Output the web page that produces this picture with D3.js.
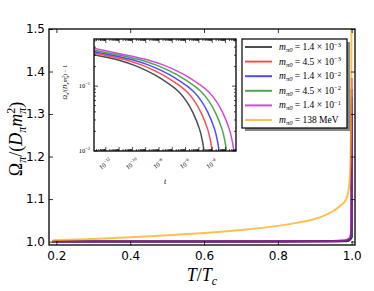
<!DOCTYPE html>
<html>
<head>
<meta charset="utf-8">
<script src="https://cdn.jsdelivr.net/npm/d3@7"></script>
<style>
body { margin: 0; background: #fff; }
</style>
</head>
<body>
<svg id="chart" width="374" height="291"></svg>
<script>
// ---- data ----
const seriesLabels = ["1.4", "4.5", "1.4", "4.5", "1.4", "138"];
const seriesExps = ["3", "3", "2", "2", "1", null];
const seriesColors = ["#000000", "#ff0000", "#0000ff", "#008000", "#bf00bf", "#ffa500"];

// main panel, physical-pion curve (orange)
const orangeT = [0.19, 0.3, 0.4, 0.5, 0.6, 0.7, 0.8, 0.85, 0.9, 0.95, 0.97, 0.985, 0.993, 0.997, 0.999, 0.9996];
const orangeVal = [1.003, 1.006, 1.010, 1.015, 1.020, 1.027, 1.037, 1.044, 1.053, 1.072, 1.085, 1.10, 1.13, 1.2, 1.35, 1.56];

// main panel, the five small-mass curves away from Tc
const flatT = [0.19, 0.5, 0.8, 0.9, 0.95, 0.98, 0.99];
const flatGray = [1.0004, 1.0004, 1.0005, 1.0006, 1.0008, 1.001, 1.0015];
const flatRed = [1.0004, 1.0004, 1.0005, 1.0006, 1.0009, 1.0012, 1.002];
const flatBlue = [1.0004, 1.0004, 1.0005, 1.0007, 1.001, 1.0015, 1.003];
const flatGreen = [1.0004, 1.0005, 1.0006, 1.0008, 1.0012, 1.002, 1.004];
const flatMagenta = [1.0004, 1.0005, 1.0006, 1.0009, 1.0015, 1.003, 1.006];

// inset: log10(t) and Omega/(D m^2) - 1
const logTGray = [-13, -12.9, -11.9, -10.9, -9.9, -8.9, -7.9, -6.9, -6.4, -5.9, -5.4, -4.9, -4.7, -4.58];
const valGray = [0.305, 0.302, 0.275, 0.245, 0.209, 0.170, 0.132, 0.0955, 0.0776, 0.0575, 0.038, 0.0209, 0.0141, 0.010];
const logTRed = [-13, -12.29, -11.29, -10.29, -9.29, -8.29, -7.29, -6.29, -5.79, -5.29, -4.79, -4.29, -4.09, -3.97];
const valRed = [0.322, 0.302, 0.275, 0.245, 0.209, 0.170, 0.132, 0.0955, 0.0776, 0.0575, 0.038, 0.0209, 0.0141, 0.010];
const logTBlue = [-13, -11.77, -10.77, -9.77, -8.77, -7.77, -6.77, -5.77, -5.27, -4.77, -4.27, -3.77, -3.57, -3.45];
const valBlue = [0.340, 0.302, 0.275, 0.245, 0.209, 0.170, 0.132, 0.0955, 0.0776, 0.0575, 0.038, 0.0209, 0.0141, 0.010];
const logTGreen = [-13, -11.21, -10.21, -9.21, -8.21, -7.21, -6.21, -5.21, -4.71, -4.21, -3.71, -3.21, -3.01, -2.89];
const valGreen = [0.359, 0.302, 0.275, 0.245, 0.209, 0.170, 0.132, 0.0955, 0.0776, 0.0575, 0.038, 0.0209, 0.0141, 0.010];
const logTMagenta = [-13, -10.66, -9.66, -8.66, -7.66, -6.66, -5.66, -4.66, -4.16, -3.66, -3.16, -2.66, -2.46, -2.34];
const valMagenta = [0.385, 0.302, 0.275, 0.245, 0.209, 0.170, 0.132, 0.0955, 0.0776, 0.0575, 0.038, 0.0209, 0.0141, 0.010];

const xTicks = [0.2, 0.4, 0.6, 0.8, 1.0];
const yTicks = [1.0, 1.1, 1.2, 1.3, 1.4, 1.5];
const insetXLabelExps = [-12, -10, -8, -6, -4];
const insetYLabelExps = [-1, -2];

const small = [
  {flat: flatGray, logT: logTGray, val: valGray},
  {flat: flatRed, logT: logTRed, val: valRed},
  {flat: flatBlue, logT: logTBlue, val: valBlue},
  {flat: flatGreen, logT: logTGreen, val: valGreen},
  {flat: flatMagenta, logT: logTMagenta, val: valMagenta}
];

const svg = d3.select("#chart");
const serif = "'Liberation Serif', 'DejaVu Serif', serif";
const sans = "'DejaVu Sans', sans-serif";
const alpha = 0.7;

// centre a rotated label (text built from tspans) on (cx, cy)
function placeVertical(textSel, cx, cy) {
  textSel.attr("text-anchor", "start").attr("x", 0).attr("y", 0);
  const b = textSel.node().getBBox();
  textSel.attr("transform",
    `translate(${cx},${cy}) rotate(-90) translate(${-b.x - b.width / 2},${-b.y - b.height / 2})`);
}

// ---- main panel ----
const x = d3.scaleLinear().domain([0.18, 1.009]).range([49, 355]);
const y = d3.scaleLinear().domain([0.992, 1.5]).range([245, 29]);

svg.append("clipPath").attr("id", "mainClip")
  .append("rect").attr("x", 49).attr("y", 29).attr("width", 306).attr("height", 216);

const line = d3.line().x(d => x(d[0])).y(d => y(d[1])).curve(d3.curveMonotoneX);
const mainG = svg.append("g").attr("clip-path", "url(#mainClip)");

small.forEach((s, i) => {
  const pts = flatT.map((t, j) => [t, s.flat[j]]);
  for (let j = s.logT.length - 1; j >= 0; j--) {
    pts.push([1 - Math.pow(10, s.logT[j]), 1 + s.val[j]]);
  }
  mainG.append("path").datum(pts)
    .attr("d", line)
    .attr("fill", "none")
    .attr("stroke", seriesColors[i])
    .attr("stroke-opacity", alpha)
    .attr("stroke-width", 2);
});

mainG.append("path").datum(orangeT.map((t, j) => [t, orangeVal[j]]))
  .attr("d", line)
  .attr("fill", "none")
  .attr("stroke", seriesColors[5])
  .attr("stroke-opacity", alpha)
  .attr("stroke-width", 2);

// axes, ticks pointing in
function styleAxis(g) {
  g.select(".domain").remove();
  g.selectAll("line").attr("stroke", "#000").attr("stroke-width", 0.8);
  g.selectAll("text").attr("font-family", sans).attr("font-size", 12).attr("fill", "#000");
}
svg.append("g").attr("transform", "translate(0,245)")
  .call(d3.axisBottom(x).tickValues(xTicks).tickFormat(d3.format(".1f")).tickSize(-4).tickPadding(6))
  .call(styleAxis);
svg.append("g").attr("transform", "translate(0,29)")
  .call(d3.axisTop(x).tickValues(xTicks).tickFormat("").tickSize(-4))
  .call(styleAxis);
svg.append("g").attr("transform", "translate(49,0)")
  .call(d3.axisLeft(y).tickValues(yTicks).tickFormat(d3.format(".1f")).tickSize(-4).tickPadding(4))
  .call(styleAxis);
svg.append("g").attr("transform", "translate(355,0)")
  .call(d3.axisRight(y).tickValues(yTicks).tickFormat("").tickSize(-4))
  .call(styleAxis);

svg.append("rect").attr("x", 49).attr("y", 29).attr("width", 306).attr("height", 216)
  .attr("fill", "none").attr("stroke", "#000").attr("stroke-width", 1.3);

// axis titles
const xl = svg.append("text").attr("x", 202).attr("y", 281)
  .attr("text-anchor", "middle").attr("font-family", serif).attr("font-size", 18);
xl.append("tspan").attr("font-style", "italic").text("T");
xl.append("tspan").text("/");
xl.append("tspan").attr("font-style", "italic").text("T");
xl.append("tspan").attr("font-style", "italic").attr("font-size", 12).attr("dy", 4).text("c");

const yl = svg.append("text").attr("font-family", serif).attr("font-size", 18);
yl.append("tspan").text("Ω");
yl.append("tspan").attr("font-style", "italic").attr("font-size", 12).attr("dy", 4).text("π");
yl.append("tspan").attr("dy", -4).text("/(");
yl.append("tspan").attr("font-style", "italic").text("D");
yl.append("tspan").attr("font-style", "italic").attr("font-size", 12).attr("dy", 4).text("π");
yl.append("tspan").attr("font-style", "italic").attr("dy", -4).text("m");
yl.append("tspan").attr("font-size", 12).attr("dy", -7).text("2");
yl.append("tspan").attr("font-style", "italic").attr("font-size", 12).attr("dx", -6).attr("dy", 11).text("π");
yl.append("tspan").attr("dy", -4).text(")");
placeVertical(yl, 16, 139);

// ---- inset ----
const xi = d3.scaleLog().domain([Math.pow(10, -12.85), Math.pow(10, -2.17)]).range([94, 236]);
const yi = d3.scaleLog().domain([Math.pow(10, -2.01), Math.pow(10, -0.28)]).range([151, 39]);

svg.append("rect").attr("x", 94).attr("y", 39).attr("width", 142).attr("height", 112).attr("fill", "#fff");
svg.append("clipPath").attr("id", "insetClip")
  .append("rect").attr("x", 94).attr("y", 39).attr("width", 142).attr("height", 112);

const lineIn = d3.line().x(d => xi(d[0])).y(d => yi(d[1])).curve(d3.curveCatmullRom.alpha(0.5));
const inG = svg.append("g").attr("clip-path", "url(#insetClip)");
small.forEach((s, i) => {
  inG.append("path").datum(s.logT.map((e, j) => [Math.pow(10, e), s.val[j]]))
    .attr("d", lineIn)
    .attr("fill", "none")
    .attr("stroke", seriesColors[i])
    .attr("stroke-opacity", alpha)
    .attr("stroke-width", 1.5);
});

const xMajor = d3.range(-12, -2).map(e => Math.pow(10, e));
const xMinor = [];
d3.range(-13, -2).forEach(e => d3.range(2, 10).forEach(k => {
  const v = k * Math.pow(10, e);
  if (v > xi.domain()[0] && v < xi.domain()[1]) xMinor.push(v);
}));
const yMajor = [0.01, 0.1];
const yMinor = [0.02, 0.03, 0.04, 0.05, 0.06, 0.07, 0.08, 0.09, 0.2, 0.3, 0.4, 0.5];

function thin(g) {
  g.select(".domain").remove();
  g.selectAll("line").attr("stroke", "#000").attr("stroke-width", 0.7);
}
[[d3.axisBottom, 151], [d3.axisTop, 39]].forEach(([ax, pos]) => {
  svg.append("g").attr("transform", `translate(0,${pos})`)
    .call(ax(xi).tickValues(xMinor).tickFormat("").tickSize(-2)).call(thin);
  svg.append("g").attr("transform", `translate(0,${pos})`)
    .call(ax(xi).tickValues(xMajor).tickFormat("").tickSize(-4)).call(thin);
});
[[d3.axisLeft, 94], [d3.axisRight, 236]].forEach(([ax, pos]) => {
  svg.append("g").attr("transform", `translate(${pos},0)`)
    .call(ax(yi).tickValues(yMinor).tickFormat("").tickSize(-2)).call(thin);
  svg.append("g").attr("transform", `translate(${pos},0)`)
    .call(ax(yi).tickValues(yMajor).tickFormat("").tickSize(-4)).call(thin);
});

function powerLabel(sel, exp) {
  sel.append("tspan").text("10");
  sel.append("tspan").attr("font-size", 4.5).attr("dy", -3).text("−" + Math.abs(exp));
}

insetXLabelExps.forEach(e => {
  const t = svg.append("text")
    .attr("transform", `translate(${xi(Math.pow(10, e))},164) rotate(-35)`)
    .attr("text-anchor", "middle").attr("font-family", serif).attr("font-size", 6.5)
    .attr("dy", "0.35em");
  powerLabel(t, e);
});
insetYLabelExps.forEach(e => {
  const t = svg.append("text")
    .attr("x", 90).attr("y", yi(Math.pow(10, e)) + 2.5)
    .attr("text-anchor", "end").attr("font-family", serif).attr("font-size", 6.5);
  powerLabel(t, e);
});

svg.append("rect").attr("x", 94).attr("y", 39).attr("width", 142).attr("height", 112)
  .attr("fill", "none").attr("stroke", "#000").attr("stroke-width", 1.3);

svg.append("text").attr("x", 165).attr("y", 184).attr("text-anchor", "middle")
  .attr("font-family", serif).attr("font-style", "italic").attr("font-size", 8).text("t");

const iyl = svg.append("text").attr("font-family", serif).attr("font-size", 6);
iyl.append("tspan").text("Ω");
iyl.append("tspan").attr("font-style", "italic").attr("font-size", 4.5).attr("dy", 1.5).text("π");
iyl.append("tspan").attr("dy", -1.5).text("/(");
iyl.append("tspan").attr("font-style", "italic").text("D");
iyl.append("tspan").attr("font-style", "italic").attr("font-size", 4.5).attr("dy", 1.5).text("π");
iyl.append("tspan").attr("font-style", "italic").attr("dy", -1.5).text("m");
iyl.append("tspan").attr("font-size", 4.5).attr("dy", -2.5).text("2");
iyl.append("tspan").attr("font-style", "italic").attr("font-size", 4.5).attr("dx", -2.5).attr("dy", 4).text("π");
iyl.append("tspan").attr("dy", -1.5).text(") − 1");
placeVertical(iyl, 65, 82);

// ---- legend ----
const lg = svg.append("g").attr("transform", "translate(242,39)");
lg.append("rect").attr("x", 3).attr("y", 3).attr("width", 105).attr("height", 89).attr("fill", "#888");
lg.append("rect").attr("x", 0).attr("y", 0).attr("width", 105).attr("height", 89)
  .attr("fill", "#fff").attr("stroke", "#000").attr("stroke-width", 1.2);

seriesLabels.forEach((lab, i) => {
  const ry = 8 + i * 14.6;
  lg.append("line").attr("x1", 3).attr("x2", 30).attr("y1", ry).attr("y2", ry)
    .attr("stroke", seriesColors[i]).attr("stroke-opacity", alpha).attr("stroke-width", 2);
  const t = lg.append("text").attr("x", 37).attr("y", ry + 3)
    .attr("font-family", serif).attr("font-size", 9.5);
  t.append("tspan").attr("font-style", "italic").text("m");
  t.append("tspan").attr("font-style", "italic").attr("font-size", 6.5).attr("dy", 2).text("π0");
  if (seriesExps[i]) {
    t.append("tspan").attr("dy", -2).text(" = " + lab + " × 10");
    t.append("tspan").attr("font-size", 6.5).attr("dy", -3.5).text("−" + seriesExps[i]);
  } else {
    t.append("tspan").attr("dy", -2).text(" = " + lab + " MeV");
  }
});
</script>
</body>
</html>
